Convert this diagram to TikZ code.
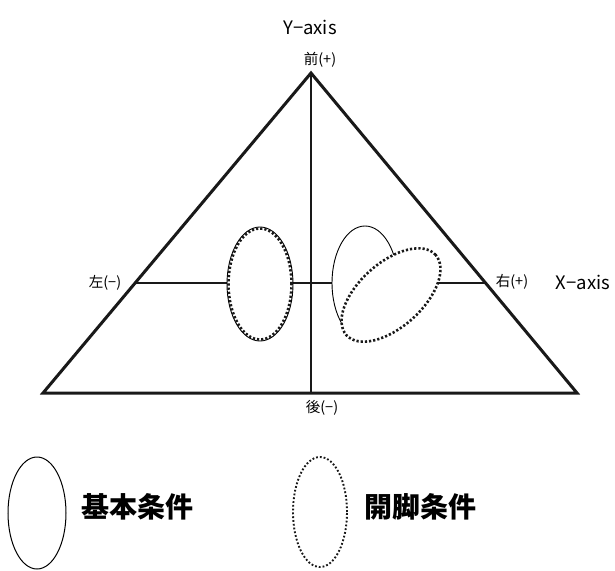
\documentclass[tikz,border=0pt]{standalone}
\usepackage{fontspec}
\setmainfont{Noto Sans CJK JP}
\newfontfamily\cjk{Noto Sans CJK JP}
\begin{document}
\begin{tikzpicture}[x=1pt,y=-1pt,
  axisline/.style={line width=2.8pt,black!90},
  triline/.style={line width=3pt,black!90,line join=miter},
  solidell/.style={draw=black,line width=0.9pt,fill=white},
  dotell/.style={draw=black!90,line width=2.6pt,dash pattern=on 2.2pt off 2pt},
  legdot/.style={draw=black!90,line width=1.9pt,dash pattern=on 1.8pt off 2pt},
  small/.style={font=\cjk\fontsize{14.5}{17}\selectfont,inner sep=0pt},
  axislab/.style={font=\cjk\fontsize{18.5}{21}\selectfont,inner sep=0pt},
  leglab/.style={font=\cjk\bfseries\fontsize{28}{32}\selectfont,inner sep=0pt}]
\useasboundingbox (0,0) rectangle (615,570);
% coordinates
\coordinate (apex) at (311,73);
\coordinate (bl) at (43,393);
\coordinate (br) at (577,393);
\coordinate (bm) at (311,393);
\coordinate (hl) at (136,283);
\coordinate (hr) at (486,283);
% axes
\draw[axisline] (apex) -- (bm);
\draw[axisline] (hl) -- (hr);
% triangle
\draw[triline] (apex) -- (bl) -- (br) -- cycle;
% left ellipses
\draw[solidell] (260,284) ellipse [x radius=33pt, y radius=57pt];
\draw[dotell] (260,284) ellipse [x radius=31.5pt, y radius=55.5pt];
% right ellipses
\draw[solidell] (365,283) ellipse [x radius=33pt, y radius=57pt];
\draw[dotell,fill=white,rotate around={42:(391,295)}] (391,295) ellipse [x radius=60pt, y radius=32pt];
% labels
\node[axislab] (yaxis) at (310,27) {Y−axis};
\node[small] (front) at (320,60) {前(+)};
\node[small] (left) at (105,283) {左(−)};
\node[small] (right) at (512,282) {右(+)};
\node[axislab] (xaxis) at (583,282) {X−axis};
\node[small] (back) at (322,408) {後(−)};
% legend
\draw[line width=1pt] (37,513) ellipse [x radius=29pt, y radius=56pt];
\node[leglab] (basic) at (137,507) {基本条件};
\draw[legdot] (320,512) ellipse [x radius=27pt, y radius=55pt];
\node[leglab] (open) at (420,507) {開脚条件};
\end{tikzpicture}
\end{document}
